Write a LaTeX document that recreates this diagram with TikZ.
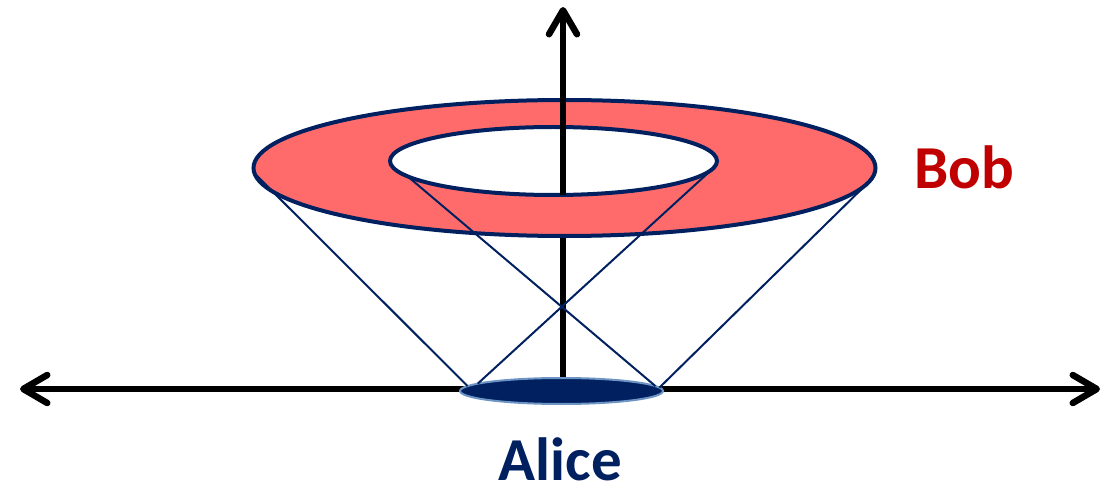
\documentclass[tikz,border=0pt]{standalone}
\usepackage{fontspec}
\setmainfont{Carlito}
\usetikzlibrary{shapes.geometric,arrows.meta}
\definecolor{navy}{HTML}{002060}
\definecolor{ringred}{HTML}{FF6B6B}
\definecolor{bobred}{HTML}{C00000}
\definecolor{aliceedge}{HTML}{6E94C4}
\begin{document}
\begin{tikzpicture}[x=1pt,y=-1pt,
  axisline/.style={line width=6.5pt, black},
  barb/.tip={Straight Barb[length=24pt,width=28pt,line cap=round,round]},
  disc/.style={ellipse, draw=navy, line width=4pt, inner sep=0pt, outer sep=0pt},
  ray/.style={navy, line width=2pt},
  label/.style={font=\fontsize{61}{72}\selectfont\bfseries, anchor=base, inner sep=0pt}]
\useasboundingbox (0,0) rectangle (1108,486);
\coordinate (O) at (563,389);
\coordinate (L) at (20,389);
\coordinate (R) at (1100,389);
\coordinate (T) at (563,7);
\coordinate (front) at (563,236);
% horizontal axis
\draw[axisline, barb-barb] (L) -- (R);
% lower part of vertical axis (hidden behind ring front)
\draw[axisline] (O) -- (front);
% ring
\node[disc, fill=ringred, minimum width=622pt, minimum height=136pt] (outer) at (564.5,168) {};
\node[disc, fill=white, minimum width=327pt, minimum height=68pt] (inner) at (553.5,161) {};
% upper part of vertical axis
\draw[axisline, -barb] (O |- inner.south) -- (T);
% Alice disc and rays
\node[ellipse, fill=navy, draw=aliceedge, line width=2pt, inner sep=0pt, outer sep=0pt,
      minimum width=203pt, minimum height=26pt] (alice) at (561.5,391) {};
\draw[ray] (outer.181) -- (alice.177);
\draw[ray] (inner.186) -- (alice.3);
\draw[ray] (inner.-3) -- (alice.175);
\draw[ray] (outer.-3) -- (alice.2);
% labels
\node[label, text=bobred] (bob) at (964,189) {Bob};
\node[label, text=navy] (alicelabel) at (560.5,480) {Alice};
\end{tikzpicture}
\end{document}
